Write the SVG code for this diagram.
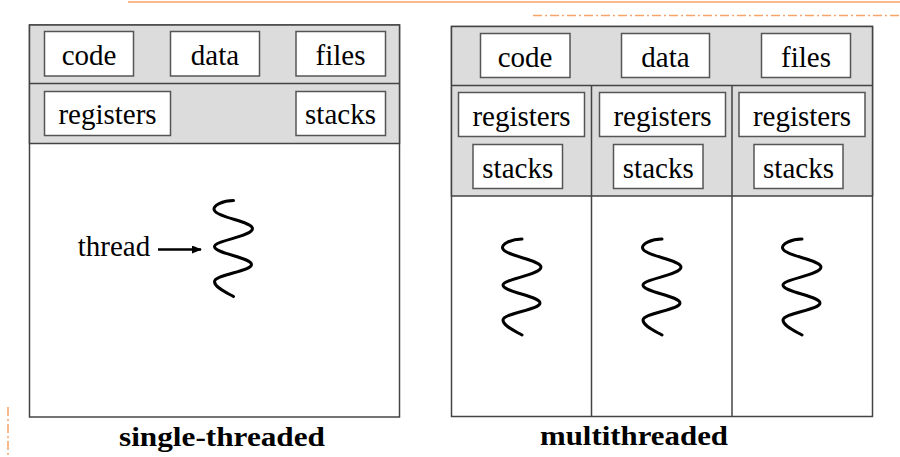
<svg xmlns="http://www.w3.org/2000/svg" width="900" height="457" viewBox="0 0 900 457">
<defs>
<style>
.panel{fill:#dcdcdc;stroke:#444;stroke-width:1.5}
.area{fill:#ffffff;stroke:#444;stroke-width:1.5}
.div{stroke:#444;stroke-width:1.5;fill:none}
.box{fill:#ffffff;stroke:#555;stroke-width:1.5}
text{font-family:'Liberation Serif',Tinos,'Noto Serif','DejaVu Serif','Times New Roman',Times,serif;fill:#000;text-anchor:middle}
.lbl{font-size:29px}
.cap{font-size:28px;font-weight:bold}
.wave{fill:none;stroke:#000;stroke-width:3;stroke-linecap:round}
.deco{stroke:#f5a46a;stroke-width:1.5;fill:none}
.dash{stroke:#f5a46a;stroke-width:1.5;fill:none;stroke-dasharray:9 3 2 3}
</style>
<path id="squiggle" class="wave" d="M522 239 C512 239 500 244 503 249 C506 256 541 260 541 267 C541 275 503 279 503 285 C503 292 540 296 540 303 C540 310 503 313 503 320 C503 326 515 331 522 335"/>
<marker id="arrow" markerWidth="10" markerHeight="8" refX="9" refY="4" orient="auto" markerUnits="userSpaceOnUse">
<path d="M0 0 L10 4 L0 8 Z" fill="#000"/>
</marker>
</defs>
<g id="decoration">
<line class="deco" x1="128" y1="2" x2="900" y2="2"/>
<line class="dash" x1="533" y1="15.5" x2="900" y2="15.5"/>
<line class="dash" x1="8" y1="407" x2="8" y2="457"/>
</g>
<g id="single-threaded">
<rect class="area" x="29.5" y="25" width="370" height="392"/>
<rect class="panel" x="29.5" y="25" width="370" height="118.5"/>
<line class="div" x1="29.5" y1="83.5" x2="399.5" y2="83.5"/>
<g id="s-code"><rect class="box" x="44.5" y="31.5" width="89" height="44.5"/><text class="lbl" x="89" y="64.5">code</text></g>
<g id="s-data"><rect class="box" x="170.5" y="31.5" width="89" height="44.5"/><text class="lbl" x="215" y="64.5">data</text></g>
<g id="s-files"><rect class="box" x="296" y="31.5" width="89.5" height="44.5"/><text class="lbl" x="340.5" y="64.5">files</text></g>
<g id="s-registers"><rect class="box" x="44.5" y="91.5" width="126" height="44"/><text class="lbl" x="107.5" y="124">registers</text></g>
<g id="s-stacks"><rect class="box" x="296" y="91.5" width="89.5" height="44"/><text class="lbl" x="340.5" y="124">stacks</text></g>
<g id="s-thread">
<text class="lbl" x="114" y="255.5">thread</text>
<use href="#squiggle" transform="translate(-288.5,-38.5)"/>
</g>
<text class="cap" x="222" y="446" textLength="206" lengthAdjust="spacingAndGlyphs">single-threaded</text>
</g>
<g id="multithreaded">
<rect class="area" x="451.5" y="26.5" width="421" height="390"/>
<rect class="panel" x="451.5" y="26.5" width="421" height="169.5"/>
<line class="div" x1="451.5" y1="85.5" x2="872.5" y2="85.5"/>
<line class="div" x1="591.5" y1="85.5" x2="591.5" y2="416.5"/>
<line class="div" x1="732" y1="85.5" x2="732" y2="416.5"/>
<g id="m-code"><rect class="box" x="480.5" y="33.5" width="89.5" height="44"/><text class="lbl" x="525" y="66.5">code</text></g>
<g id="m-data"><rect class="box" x="621.5" y="33.5" width="88" height="44"/><text class="lbl" x="665.5" y="66.5">data</text></g>
<g id="m-files"><rect class="box" x="761.5" y="33.5" width="89" height="44"/><text class="lbl" x="806" y="66.5">files</text></g>
<g id="m-registers-1"><rect class="box" x="458.5" y="92.5" width="126" height="44"/><text class="lbl" x="521.5" y="125.5">registers</text></g>
<g id="m-registers-2"><rect class="box" x="599.5" y="92.5" width="126" height="44"/><text class="lbl" x="662.5" y="125.5">registers</text></g>
<g id="m-registers-3"><rect class="box" x="739" y="92.5" width="126" height="44"/><text class="lbl" x="802" y="125.5">registers</text></g>
<g id="m-stacks-1"><rect class="box" x="473" y="144.5" width="89.5" height="44"/><text class="lbl" x="517.75" y="177.5">stacks</text></g>
<g id="m-stacks-2"><rect class="box" x="613.5" y="144.5" width="89.5" height="44"/><text class="lbl" x="658.25" y="177.5">stacks</text></g>
<g id="m-stacks-3"><rect class="box" x="754" y="144.5" width="89" height="44"/><text class="lbl" x="798.5" y="177.5">stacks</text></g>
<g id="m-thread-1"><use href="#squiggle"/></g>
<g id="m-thread-2"><use href="#squiggle" transform="translate(140,0)"/></g>
<g id="m-thread-3"><use href="#squiggle" transform="translate(280,0)"/></g>
<text class="cap" x="634" y="445" textLength="188" lengthAdjust="spacingAndGlyphs">multithreaded</text>
</g>
<g id="connectors">
<line x1="158" y1="249.5" x2="201" y2="249.5" stroke="#000" stroke-width="2.5" marker-end="url(#arrow)"/>
</g>
</svg>
